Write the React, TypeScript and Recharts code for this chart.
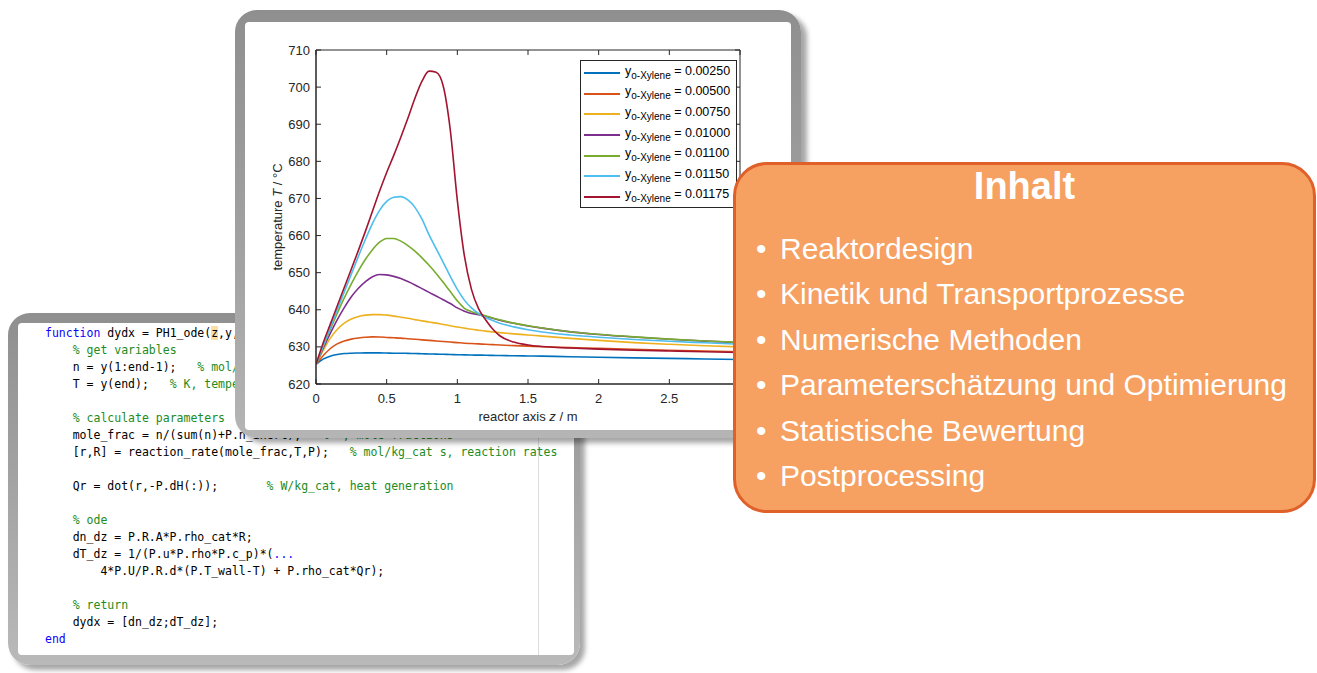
import React from 'react';
import { LineChart, Line, XAxis, YAxis, Legend, ReferenceArea } from 'recharts';

// ---------- data ----------
const zValues = [0, 0.05, 0.1, 0.15, 0.2, 0.25, 0.3, 0.35, 0.4, 0.45, 0.5, 0.55, 0.6, 0.65, 0.7, 0.75, 0.8, 0.85, 0.9, 0.95, 1.0, 1.05, 1.1, 1.15, 1.2, 1.25, 1.3, 1.4, 1.5, 1.6, 1.8, 2.0, 2.25, 2.5, 2.75, 3.0];

const T_00250 = [625.3, 626.7, 627.5, 627.95, 628.2, 628.3, 628.35, 628.4, 628.4, 628.4, 628.35, 628.3, 628.3, 628.25, 628.2, 628.15, 628.1, 628.05, 628.0, 627.95, 627.9, 627.85, 627.8, 627.78, 627.75, 627.7, 627.67, 627.6, 627.55, 627.5, 627.35, 627.2, 627.05, 626.9, 626.75, 626.6];
const T_00500 = [625.3, 627.6, 629.5, 630.8, 631.6, 632.1, 632.4, 632.6, 632.7, 632.65, 632.55, 632.45, 632.35, 632.2, 632.05, 631.9, 631.75, 631.6, 631.45, 631.3, 631.15, 631.0, 630.9, 630.8, 630.7, 630.6, 630.5, 630.35, 630.2, 630.05, 629.8, 629.6, 629.35, 629.1, 628.9, 628.7];
const T_00750 = [625.3, 629.0, 632.3, 634.7, 636.4, 637.5, 638.2, 638.55, 638.7, 638.7, 638.55, 638.3, 638.0, 637.7, 637.35, 637.0, 636.7, 636.4, 636.05, 635.7, 635.35, 635.05, 634.75, 634.5, 634.25, 634.05, 633.85, 633.5, 633.2, 632.9, 632.3, 631.75, 631.15, 630.7, 630.3, 630.0];
const T_01000 = [625.3, 629.6, 633.6, 637.3, 640.6, 643.5, 645.8, 647.6, 648.9, 649.5, 649.4, 649.0, 648.4, 647.6, 646.7, 645.7, 644.7, 643.7, 642.7, 641.7, 640.5, 639.6, 639.0, 638.7, 638.25, 637.7, 637.2, 636.35, 635.65, 635.05, 634.05, 633.35, 632.65, 632.05, 631.55, 631.15];
const T_01100 = [625.3, 630.0, 634.6, 639.0, 643.2, 647.0, 650.5, 653.6, 656.2, 658.2, 659.2, 659.2, 658.5, 657.3, 655.8, 654.0, 652.0, 649.8, 647.4, 644.9, 642.4, 640.4, 639.5, 638.9, 638.4, 637.8, 637.3, 636.4, 635.7, 635.1, 634.1, 633.4, 632.7, 632.1, 631.6, 631.2];
const T_01150 = [625.3, 630.2, 635.0, 640.0, 644.8, 649.6, 654.4, 659.0, 663.3, 666.8, 669.2, 670.3, 670.5, 669.6, 667.6, 664.4, 660.2, 656.5, 652.8, 649.0, 645.5, 642.6, 640.5, 639.0, 637.9, 637.1, 636.4, 635.4, 634.6, 634.0, 633.2, 632.6, 632.0, 631.5, 631.1, 630.7];
const T_01175 = [625.3, 631.0, 636.0, 641.0, 646.0, 651.0, 656.0, 661.2, 666.6, 672.0, 677.0, 681.6, 686.5, 691.6, 697.0, 701.6, 704.3, 704.0, 700.3, 688.5, 669.5, 654.5, 645.5, 640.3, 637.3, 634.8, 633.0, 631.3, 630.5, 630.1, 629.7, 629.4, 629.1, 628.9, 628.7, 628.5];

const seriesValues = [T_00250, T_00500, T_00750, T_01000, T_01100, T_01150, T_01175];
const seriesLabels = ['0.00250', '0.00500', '0.00750', '0.01000', '0.01100', '0.01150', '0.01175'];
const seriesColors = ['#0072BD', '#D95319', '#EDB120', '#7E2F8E', '#77AC30', '#4DBEEE', '#A2142F'];

const xTicks = [0, 0.5, 1, 1.5, 2, 2.5, 3];
const yTicks = [620, 630, 640, 650, 660, 670, 680, 690, 700, 710];

const contentsTitle = 'Inhalt';
const contentsItems = ['Reaktordesign', 'Kinetik und Transportprozesse', 'Numerische Methoden', 'Parameterschätzung und Optimierung', 'Statistische Bewertung', 'Postprocessing'];

type Seg = [string, string];
const codeLines: Seg[][] = [
  [['kw', 'function'], ['tx', ' dydx = PH1_ode('], ['hl', 'z'], ['tx', ',y,P)']],
  [['tx', '    '], ['cm', '% get variables']],
  [['tx', '    n = y(1:end-1);   '], ['cm', '% mol/s, molar flow rates']],
  [['tx', '    T = y(end);   '], ['cm', '% K, temperature']],
  [],
  [['tx', '    '], ['cm', '% calculate parameters']],
  [['tx', '    mole_frac = n/(sum(n)+P.n_inert);   '], ['cm', '% -, mole fractions']],
  [['tx', '    [r,R] = reaction_rate(mole_frac,T,P);   '], ['cm', '% mol/kg_cat s, reaction rates']],
  [],
  [['tx', '    Qr = dot(r,-P.dH(:));       '], ['cm', '% W/kg_cat, heat generation']],
  [],
  [['tx', '    '], ['cm', '% ode']],
  [['tx', '    dn_dz = P.R.A*P.rho_cat*R;']],
  [['tx', '    dT_dz = 1/(P.u*P.rho*P.c_p)*('], ['kw', '...']],
  [['tx', '        4*P.U/P.R.d*(P.T_wall-T) + P.rho_cat*Qr);']],
  [],
  [['tx', '    '], ['cm', '% return']],
  [['tx', '    dydx = [dn_dz;dT_dz];']],
  [['kw', 'end']],
];

// ---------- layout constants ----------
const CHART_W = 546;
const CHART_H = 408;
const MARGIN = { top: 28, right: 51, left: 0, bottom: 0 };
const Y_AXIS_W = 71;
const X_AXIS_H = 46;
const PLOT_W = CHART_W - MARGIN.right - Y_AXIS_W;
const PLOT_H = CHART_H - MARGIN.top - X_AXIS_H;
const AX = '#262626';
const FONT = '"Liberation Sans", Arial, Helvetica, sans-serif';

const chartData = zValues.map((z, i) => {
  const row: Record<string, number> = { z };
  seriesValues.forEach((s, k) => {
    row['s' + k] = s[i];
  });
  return row;
});

function XTick(props: any) {
  const { x, y, payload } = props;
  return (
    <g>
      <line x1={x} x2={x} y1={y} y2={y - 5} stroke={AX} strokeWidth={1} />
      <line x1={x} x2={x} y1={y - PLOT_H} y2={y - PLOT_H + 5} stroke={AX} strokeWidth={1} />
      <text x={x} y={y + 18.5} textAnchor="middle" fontSize={13} fill={AX} fontFamily={FONT}>
        {String(payload.value)}
      </text>
    </g>
  );
}

function YTick(props: any) {
  const { x, y, payload } = props;
  return (
    <g>
      <line x1={x} x2={x + 5} y1={y} y2={y} stroke={AX} strokeWidth={1} />
      <line x1={x + PLOT_W} x2={x + PLOT_W - 5} y1={y} y2={y} stroke={AX} strokeWidth={1} />
      <text x={x - 6} y={y + 4.6} textAnchor="end" fontSize={13} fill={AX} fontFamily={FONT}>
        {String(payload.value)}
      </text>
    </g>
  );
}

function YLabel(props: any) {
  const vb = props.viewBox || { x: 0, y: 0, width: 0, height: 0 };
  const cx = vb.x + 32;
  const cy = vb.y + vb.height / 2;
  return (
    <text
      x={cx}
      y={cy}
      transform={`rotate(-90 ${cx} ${cy})`}
      textAnchor="middle"
      dominantBaseline="central"
      fontSize={13}
      fill={AX}
      fontFamily={FONT}
    >
      temperature <tspan fontStyle="italic">T</tspan> / °C
    </text>
  );
}

function XLabel(props: any) {
  const vb = props.viewBox || { x: 0, y: 0, width: 0, height: 0 };
  const cx = vb.x + vb.width / 2;
  const cy = vb.y + 37;
  return (
    <text x={cx} y={cy} textAnchor="middle" fontSize={13} fill={AX} fontFamily={FONT}>
      reactor axis <tspan fontStyle="italic">z</tspan> / m
    </text>
  );
}

function LegendBox() {
  return (
    <div
      style={{
        width: 157,
        height: 148,
        boxSizing: 'border-box',
        border: `1px solid ${AX}`,
        background: '#fff',
        paddingTop: 2,
        fontFamily: FONT,
        color: '#000',
      }}
    >
      {seriesLabels.map((lab, i) => (
        <div key={lab} style={{ display: 'flex', alignItems: 'center', height: 20.6, whiteSpace: 'nowrap' }}>
          <div style={{ width: 36, height: 2, background: seriesColors[i], marginLeft: 3, marginRight: 5 }} />
          <span style={{ fontSize: 12.5, lineHeight: '14px', position: 'relative', top: -2 }}>
            y
            <span style={{ fontSize: 10, position: 'relative', top: 4 }}>o-Xylene</span>
            {' = ' + lab}
          </span>
        </div>
      ))}
    </div>
  );
}

function CodeCard() {
  const colorOf: Record<string, string> = { kw: '#0E00FF', cm: '#228B22', tx: '#000', hl: '#000' };
  return (
    <div
      style={{
        position: 'absolute',
        left: 8,
        top: 313,
        width: 572,
        height: 352,
        borderRadius: 22,
        background: 'linear-gradient(180deg, #8f8f8f 0%, #a8a8a8 60%, #b9b9b9 100%)',
        boxShadow: '5px 5px 5px rgba(0,0,0,0.35)',
        zIndex: 1,
      }}
    >
      <div
        style={{
          position: 'absolute',
          left: 10,
          top: 10,
          right: 6,
          bottom: 10,
          background: '#fff',
          borderRadius: 4,
          overflow: 'hidden',
        }}
      >
        <div style={{ position: 'absolute', left: 520, top: 0, bottom: 0, width: 1, background: '#dcdcdc' }} />
        <div
          style={{
            position: 'absolute',
            left: 27,
            top: 1.5,
            fontFamily: '"DejaVu Sans Mono", "Liberation Mono", monospace',
            fontSize: 11.5,
            lineHeight: '17.06px',
            whiteSpace: 'pre',
          }}
        >
          {codeLines.map((line, i) => (
            <div key={i} style={{ height: 17.06 }}>
              {line.map(([k, t], j) => (
                <span key={j} style={{ color: colorOf[k], background: k === 'hl' ? '#F8DFA6' : undefined }}>
                  {t}
                </span>
              ))}
            </div>
          ))}
        </div>
      </div>
    </div>
  );
}

function ChartCard() {
  return (
    <div
      style={{
        position: 'absolute',
        left: 235,
        top: 10,
        width: 566,
        height: 428,
        borderRadius: 22,
        background: 'linear-gradient(180deg, #8f8f8f 0%, #a3a3a3 60%, #b5b5b5 100%)',
        boxShadow: '6px 5px 5px rgba(0,0,0,0.35)',
        zIndex: 2,
      }}
    >
      <div
        style={{
          position: 'absolute',
          left: 10,
          top: 12,
          width: CHART_W,
          height: CHART_H,
          background: '#fff',
          borderRadius: 4,
        }}
      >
        <LineChart width={CHART_W} height={CHART_H} data={chartData} margin={MARGIN}>
          <XAxis
            dataKey="z"
            type="number"
            domain={[0, 3]}
            ticks={xTicks}
            height={X_AXIS_H}
            tickSize={0}
            tickMargin={0}
            tickLine={false}
            axisLine={{ stroke: AX }}
            tick={<XTick />}
            interval={0}
            allowDataOverflow
            label={<XLabel />}
          />
          <YAxis
            type="number"
            domain={[620, 710]}
            ticks={yTicks}
            width={Y_AXIS_W}
            tickSize={0}
            tickMargin={0}
            tickLine={false}
            axisLine={{ stroke: AX }}
            tick={<YTick />}
            interval={0}
            allowDataOverflow
            label={<YLabel />}
          />
          <ReferenceArea x1={0} x2={3} y1={620} y2={710} fill="none" stroke={AX} strokeWidth={1} ifOverflow="visible" />
          {seriesValues.map((_, k) => (
            <Line
              key={k}
              dataKey={'s' + k}
              name={seriesLabels[k]}
              type="monotone"
              stroke={seriesColors[k]}
              strokeWidth={1.6}
              dot={false}
              activeDot={false}
              isAnimationActive={false}
            />
          ))}
          <Legend
            layout="vertical"
            align="center"
            verticalAlign="middle"
            content={() => <LegendBox />}
            wrapperStyle={{ left: 335, top: 38, width: 157, height: 148 }}
          />
        </LineChart>
      </div>
    </div>
  );
}

function ContentsBox() {
  return (
    <div
      style={{
        position: 'absolute',
        left: 733,
        top: 162,
        width: 583,
        height: 351,
        boxSizing: 'border-box',
        borderRadius: 34,
        border: '3px solid #E0602A',
        background: '#F6A062',
        zIndex: 3,
        fontFamily: FONT,
        color: '#fff',
      }}
    >
      <div
        style={{
          position: 'absolute',
          left: 0,
          right: 0,
          top: 0,
          textAlign: 'center',
          fontWeight: 'bold',
          fontSize: 38,
          lineHeight: '42px',
        }}
      >
        {contentsTitle}
      </div>
      <div style={{ position: 'absolute', left: 20, top: 61 }}>
        {contentsItems.map((it) => (
          <div key={it} style={{ height: 45.4, lineHeight: '45.4px', fontSize: 30, whiteSpace: 'nowrap' }}>
            <span style={{ display: 'inline-block', width: 24 }}>•</span>
            {it}
          </div>
        ))}
      </div>
    </div>
  );
}

export default function App() {
  return (
    <div style={{ position: 'absolute', left: 0, top: 0, width: 1317, height: 673, background: '#fff', overflow: 'hidden' }}>
      <CodeCard />
      <ChartCard />
      <ContentsBox />
    </div>
  );
}
